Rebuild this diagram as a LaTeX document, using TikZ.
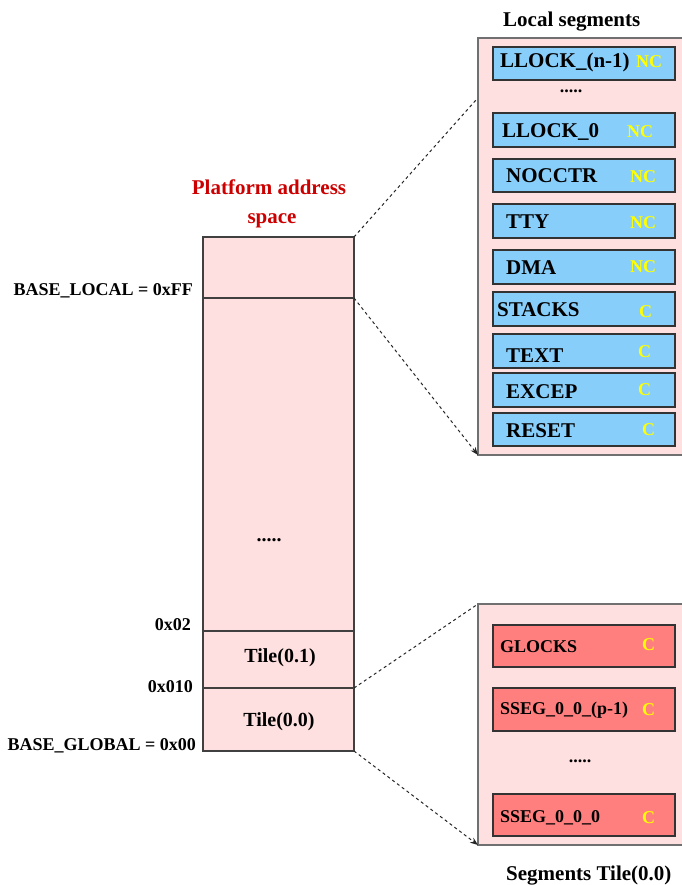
\documentclass[tikz,border=0pt]{standalone}
\usepackage{fontspec}
\setmainfont{Liberation Serif}
\usetikzlibrary{arrows.meta}
\definecolor{pinkfill}{HTML}{FFE0E0}
\definecolor{bluebox}{HTML}{87CEFA}
\definecolor{redbox}{HTML}{FF7F7F}
\definecolor{titlered}{HTML}{CC0000}
\definecolor{ncyellow}{HTML}{FFFF00}
\definecolor{panelborder}{HTML}{707070}
\begin{document}
\begin{tikzpicture}[x=1pt,y=-1pt,
  panel/.style={draw=panelborder, line width=1.4pt, fill=pinkfill, inner sep=0, outer sep=0, anchor=north west},
  seg/.style={draw=black!75, line width=1.1pt, fill=pinkfill, inner sep=0, outer sep=0, anchor=north west, minimum width=151pt},
  bbox/.style={draw=black!80, line width=1.1pt, fill=bluebox, inner sep=0, outer sep=0, anchor=north west, minimum width=182pt},
  rbox/.style={draw=black!80, line width=1.1pt, fill=redbox, inner sep=0, outer sep=0, anchor=north west, minimum width=182pt},
  lbl/.style={anchor=base west, inner sep=0, font=\bfseries\fontsize{21}{21}\selectfont},
  slbl/.style={anchor=base west, inner sep=0, font=\bfseries\fontsize{18}{18}\selectfont},
  nc/.style={anchor=base west, inner sep=0, text=ncyellow, font=\bfseries\fontsize{18}{18}\selectfont},
  addr/.style={anchor=base east, inner sep=0, font=\bfseries\fontsize{18}{18}\selectfont},
  ctr/.style={anchor=base, inner sep=0, font=\bfseries\fontsize{20}{20}\selectfont},
  conn/.style={draw=black!85, line width=1pt, dash pattern=on 3pt off 3pt},
  arr/.style={-{Stealth[length=8pt,width=6pt]}}
]
\useasboundingbox (0,0) rectangle (681,885);
\fill[white] (0,0) rectangle (681,885);

% main column
\node[seg, minimum height=61pt] (segtop) at (203,237) {};
\node[seg, minimum height=333pt] (segmid) at (203,298) {};
\node[seg, minimum height=57pt] (t1) at (203,631) {};
\node[seg, minimum height=63pt] (t0) at (203,688) {};
\node[ctr] (dotsmain) at (269,541) {.....};
\node[ctr] (t1lbl) at (280,662) {Tile(0.1)};
\node[ctr] (t0lbl) at (279,726) {Tile(0.0)};

\node[anchor=base, inner sep=0, text=titlered, font=\bfseries\fontsize{21}{21}\selectfont] (pt1) at (269,195) {Platform address};
\node[anchor=base, inner sep=0, text=titlered, font=\bfseries\fontsize{21}{21}\selectfont] (pt2) at (272,223) {space};

\node[addr] (a1) at (193,295) {BASE\_LOCAL = 0xFF};
\node[addr] (a2) at (191,630) {0x02};
\node[addr] (a3) at (193,692) {0x010};
\node[addr] (a4) at (196,750) {BASE\_GLOBAL = 0x00};

% local segments panel
\node[panel, minimum width=230pt, minimum height=417pt] (local) at (478,38) {};
\node[lbl] (localtitle) at (503,27) {Local segments};

\node[bbox, minimum height=33pt] (lln) at (493,47) {};
\node[lbl] at (500,68) {LLOCK\_(n-1)};
\node[nc] at (636,68) {NC};
\node[ctr, font=\bfseries\fontsize{18}{18}\selectfont] (dotsloc) at (571,93) {.....};

\node[bbox, minimum height=34pt] (ll0) at (493,113) {};
\node[lbl] at (502,138) {LLOCK\_0};
\node[nc] at (627,138) {NC};

\node[bbox, minimum height=33pt] (noc) at (493,159) {};
\node[lbl] at (506,183) {NOCCTR};
\node[nc] at (630,183) {NC};

\node[bbox, minimum height=34pt] (tty) at (493,204) {};
\node[lbl] at (506,229) {TTY};
\node[nc] at (630,229) {NC};

\node[bbox, minimum height=34pt] (dma) at (493,250) {};
\node[lbl] at (506,274) {DMA};
\node[nc] at (630,272) {NC};

\node[bbox, minimum height=34pt] (stk) at (493,292) {};
\node[lbl] at (497,316) {STACKS};
\node[nc] at (639,317) {C};

\node[bbox, minimum height=34pt] (txt) at (493,334) {};
\node[lbl] at (506,362) {TEXT};
\node[nc] at (638,357) {C};

\node[bbox, minimum height=34pt] (exc) at (493,373) {};
\node[lbl] at (506,398) {EXCEP};
\node[nc] at (638,395) {C};

\node[bbox, minimum height=33pt] (rst) at (493,413) {};
\node[lbl] at (506,437) {RESET};
\node[nc] at (642,435) {C};

% tile segments panel
\node[panel, minimum width=230pt, minimum height=241pt] (tile) at (478,604) {};

\node[rbox, minimum height=42pt] (gl) at (493,625) {};
\node[slbl] at (500,652) {GLOCKS};
\node[nc] at (642,650) {C};

\node[rbox, minimum height=43pt] (sp) at (493,688) {};
\node[slbl] at (500,714) {SSEG\_0\_0\_(p-1)};
\node[nc] at (642,715) {C};

\node[ctr, font=\bfseries\fontsize{18}{18}\selectfont] (dotstile) at (580,762) {.....};

\node[rbox, minimum height=42pt] (s0) at (493,794) {};
\node[slbl] at (500,822) {SSEG\_0\_0\_0};
\node[nc] at (642,823) {C};

\node[lbl] (tiletitle) at (506,880) {Segments Tile(0.0)};

% connectors
\coordinate (lp1) at (476,100);
\draw[conn] (segtop.north east) -- (lp1);
\draw[conn, arr] (segtop.south east) -- (local.south west);
\draw[conn] (t0.north east) -- (tile.north west);
\draw[conn, arr] (t0.south east) -- (tile.south west);
\end{tikzpicture}
\end{document}
